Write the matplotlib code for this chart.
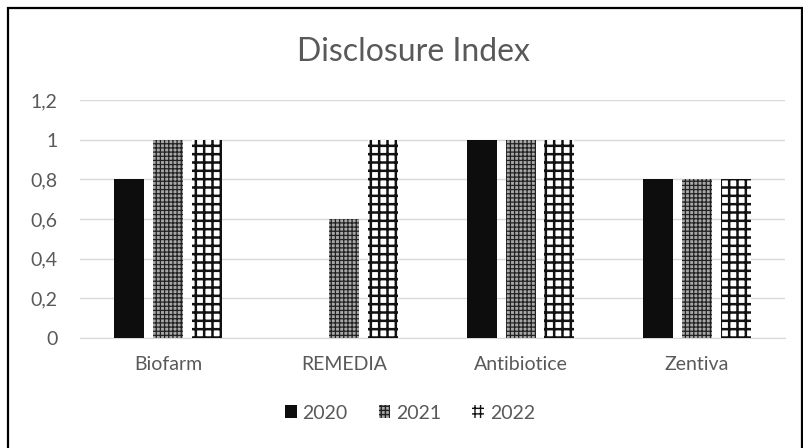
import matplotlib.pyplot as plt
import matplotlib.patches as mpatches
import numpy as np

companies = ['Biofarm', 'REMEDIA', 'Antibiotice', 'Zentiva']
years = ['2020', '2021', '2022']
v2020 = [0.8, 0.0, 1.0, 0.8]
v2021 = [1.0, 0.6, 1.0, 0.8]
v2022 = [1.0, 1.0, 1.0, 0.8]
yticks = [0, 0.2, 0.4, 0.6, 0.8, 1.0, 1.2]

plt.rcParams['font.family'] = ['Lato', 'DejaVu Sans']
grey_txt = '#595959'

fig = plt.figure(figsize=(8.04, 4.48), dpi=100)
ax = fig.add_axes([80/804, 110/448, 705/804, 238/448])

x = np.arange(len(companies))
w = 0.17
off = 0.22

# 2020: solid black
ax.bar(x - off, v2020, w, color='#0d0d0d', linewidth=0, zorder=3)

# 2021: fine dotted grey
b21 = ax.bar(x, v2021, w, facecolor='#a8a8a8', edgecolor='#222222',
             hatch='++++', linewidth=0, zorder=3)
# 2022: white with thick black grid
b22 = ax.bar(x + off, v2022, w, facecolor='white', edgecolor='#111111',
             hatch='++', linewidth=0, zorder=3)
for p in b21:
    if hasattr(p, 'set_hatch_linewidth'):
        p.set_hatch_linewidth(0.9)
for p in b22:
    if hasattr(p, 'set_hatch_linewidth'):
        p.set_hatch_linewidth(1.8)

ax.set_xlim(-0.5, len(companies) - 0.5)
ax.set_ylim(0, 1.2)
ax.set_yticks(yticks)
ax.set_yticklabels([('%g' % t).replace('.', ',') for t in yticks])
ax.set_xticks(x)
ax.set_xticklabels(companies)
ax.tick_params(axis='both', length=0, labelsize=14, colors=grey_txt)
ax.tick_params(axis='y', pad=16)
ax.tick_params(axis='x', pad=13)
ax.grid(axis='y', color='#d9d9d9', linewidth=1, zorder=0)
for s in ['top', 'right', 'left']:
    ax.spines[s].set_visible(False)
ax.spines['bottom'].set_color('#d9d9d9')

fig.text(413/804, 1 - 52/448, 'Disclosure Index', ha='center', va='center',
         fontsize=23, color=grey_txt)

h20 = mpatches.Patch(facecolor='#0d0d0d', linewidth=0)
h21 = mpatches.Patch(facecolor='#a8a8a8', edgecolor='#222222', hatch='++++', linewidth=0)
h22 = mpatches.Patch(facecolor='white', edgecolor='#111111', hatch='+++', linewidth=0)
leg = fig.legend([h20, h21, h22], years, loc='center', bbox_to_anchor=(410/804, 1 - 413/448),
                 ncol=3, frameon=False, fontsize=14, handlelength=0.6, handleheight=0.6,
                 handletextpad=0.3, columnspacing=1.6)
for t in leg.get_texts():
    t.set_color(grey_txt)

# frame around the whole chart
frame = mpatches.Rectangle((8/804, -0.01), 794/804, 1 - 8/448 + 0.01,
                           transform=fig.transFigure, fill=False,
                           edgecolor='black', linewidth=1.6)
fig.patches.append(frame)

fig.savefig('out.png', dpi=100)
